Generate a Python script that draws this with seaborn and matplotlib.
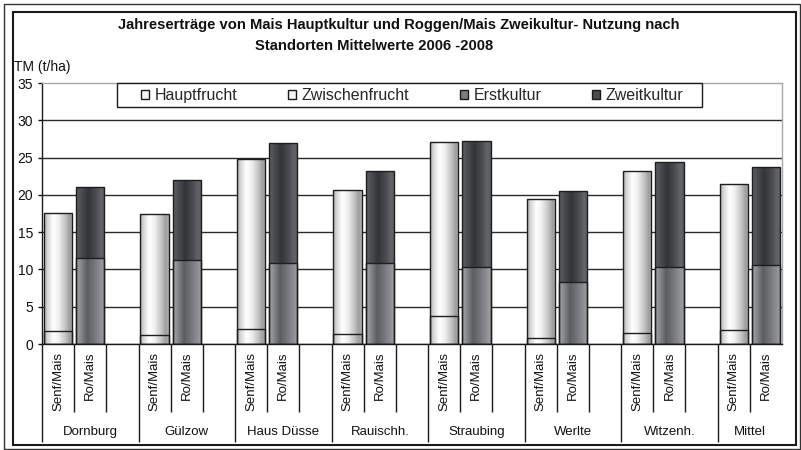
import numpy as np
import pandas as pd
import matplotlib
matplotlib.use("Agg")
import matplotlib.pyplot as plt
from matplotlib.patches import Rectangle, Patch
from matplotlib.colors import to_rgb
from matplotlib.transforms import blended_transform_factory
import seaborn as sns

# ---- data (t/ha dry matter, means 2006-2008) ----
standorte = ["Dornburg", "Gülzow", "Haus Düsse", "Rauischh.", "Straubing",
             "Werlte", "Witzenh.", "Mittel"]
varianten = ["Senf/Mais", "Ro/Mais"]
zwischenfrucht = [1.7, 1.2, 2.0, 1.3, 3.7, 0.8, 1.5, 1.9]
hauptfrucht = [15.9, 16.3, 22.8, 19.3, 23.4, 18.7, 21.7, 19.6]
erstkultur = [11.5, 11.2, 10.9, 10.9, 10.3, 8.3, 10.3, 10.6]
zweitkultur = [9.6, 10.8, 16.1, 12.3, 16.9, 12.2, 14.1, 13.1]
reihen = ["Hauptfrucht", "Zwischenfrucht", "Erstkultur", "Zweitkultur"]
y_ticks = [0, 5, 10, 15, 20, 25, 30, 35]
titel = ["Jahreserträge von Mais Hauptkultur und Roggen/Mais Zweikultur- Nutzung nach",
         "Standorten Mittelwerte 2006 -2008"]
y_titel = "TM (t/ha)"

# each site occupies three category slots (two bars + spacer), the last one two
rows = []
for i, ort in enumerate(standorte):
    rows.append(dict(ort=ort, variante=varianten[0], pos=3 * i,
                     unten=zwischenfrucht[i], oben=hauptfrucht[i],
                     r_unten="Zwischenfrucht", r_oben="Hauptfrucht"))
    rows.append(dict(ort=ort, variante=varianten[1], pos=3 * i + 1,
                     unten=erstkultur[i], oben=zweitkultur[i],
                     r_unten="Erstkultur", r_oben="Zweitkultur"))
df = pd.DataFrame(rows)
df["gesamt"] = df["unten"] + df["oben"]
n_slots = 3 * len(standorte) - 1

# cylinder-like shading across each bar
licht = [(0.0, "#acacac"), (0.12, "#d6d6d6"), (0.32, "#ffffff"), (0.5, "#f1f1f1"),
         (0.75, "#c2c2c2"), (0.9, "#9c9c9c"), (1.0, "#b6b6b6")]
verlauf = {
    "Hauptfrucht": licht,
    "Zwischenfrucht": licht,
    "Erstkultur": [(0.0, "#a4a5a9"), (0.15, "#8b8c90"), (0.38, "#5c5d61"),
                   (0.6, "#727377"), (0.85, "#8e8f93"), (1.0, "#a0a1a5")],
    "Zweitkultur": [(0.0, "#5e5f63"), (0.2, "#4a4b4f"), (0.42, "#333438"),
                    (0.65, "#47484c"), (0.88, "#646569"), (1.0, "#58595d")],
}
grundfarbe = {"Hauptfrucht": "#e6e6e6", "Zwischenfrucht": "#e6e6e6",
              "Erstkultur": "#7c7d81", "Zweitkultur": "#4a4b4f"}

sns.set_theme(style="white")
plt.rcParams["font.family"] = ["Liberation Sans", "DejaVu Sans"]

W, H = 801, 450
fig = plt.figure(figsize=(W / 100, H / 100), dpi=100)
ax = fig.add_axes([42 / W, 1 - 344 / H, (782 - 42) / W, (344 - 83) / H])


def schattieren(patch, stops):
    x0, y0 = patch.get_x(), patch.get_y()
    w, h = patch.get_width(), patch.get_height()
    xs = np.linspace(0, 1, 96)
    ps = [p for p, _ in stops]
    cols = np.array([to_rgb(c) for _, c in stops])
    rgb = np.stack([np.interp(xs, ps, cols[:, k]) for k in range(3)], axis=-1)[None, :, :]
    im = ax.imshow(rgb, extent=[x0, x0 + w, y0, y0 + h], aspect="auto",
                   interpolation="bilinear", origin="lower", zorder=2)
    im.set_clip_path(patch)
    patch.set_facecolor("none")
    patch.set_zorder(2.5)


reihe_an_pos_oben = dict(zip(df["pos"], df["r_oben"]))
reihe_an_pos_unten = dict(zip(df["pos"], df["r_unten"]))

# full stacks first (coloured as the upper component) ...
n0 = len(ax.patches)
sns.barplot(data=df, x="pos", y="gesamt", hue="r_oben", palette=grundfarbe,
            native_scale=True, dodge=False, width=0.88, errorbar=None,
            legend=False, edgecolor="#1e1e1e", linewidth=1.0, ax=ax)
for p in ax.patches[n0:]:
    pos = int(round(p.get_x() + p.get_width() / 2))
    schattieren(p, verlauf[reihe_an_pos_oben[pos]])

# ... then the lower component on top of them
n1 = len(ax.patches)
sns.barplot(data=df, x="pos", y="unten", hue="r_unten", palette=grundfarbe,
            native_scale=True, dodge=False, width=0.88, errorbar=None,
            legend=False, edgecolor="#1e1e1e", linewidth=1.0, ax=ax)
for p in ax.patches[n1:]:
    pos = int(round(p.get_x() + p.get_width() / 2))
    schattieren(p, verlauf[reihe_an_pos_unten[pos]])

# axes
ax.set_xlim(-0.5, n_slots - 0.5)
ax.set_ylim(y_ticks[0], y_ticks[-1])
ax.set_yticks(y_ticks)
ax.set_yticklabels([str(v) for v in y_ticks])
ax.set_xlabel("")
ax.set_ylabel("")
ax.yaxis.grid(True, color="#2a2a2a", linewidth=1.0)
ax.get_ygridlines()[-1].set_visible(False)
ax.set_axisbelow(True)
for s in ["left", "bottom"]:
    ax.spines[s].set_color("#1a1a1a")
    ax.spines[s].set_linewidth(1.0)
for s in ["top", "right"]:
    ax.spines[s].set_color("#a8a8a8")
    ax.spines[s].set_linewidth(1.0)
ax.tick_params(axis="y", left=True, length=3, width=1, pad=3.5,
               labelsize=10, colors="#111111")

# category axis: long separators between sites, short ones between slots
grenzen_ort = [3 * i - 0.5 for i in range(len(standorte))]
grenzen_slot = []
for i in range(len(standorte)):
    n = 3 if i < len(standorte) - 1 else 2
    grenzen_slot += [3 * i + k + 0.5 for k in range(n - 1)]
ax.set_xticks(grenzen_ort)
ax.set_xticks(grenzen_slot, minor=True)
ax.tick_params(axis="x", which="major", bottom=True, length=70.5, width=1,
               color="#1a1a1a", labelbottom=False)
ax.tick_params(axis="x", which="minor", bottom=True, length=49, width=1,
               color="#1a1a1a", labelbottom=False)

trans = blended_transform_factory(ax.transData, ax.transAxes)
ah = 344 - 83
for _, r in df.iterrows():
    ax.text(r["pos"], -8 / ah, r["variante"], rotation=90, ha="center", va="top",
            fontsize=9.5, color="#111111", transform=trans)
for i, ort in enumerate(standorte):
    n = 3 if i < len(standorte) - 1 else 2
    mitte = 3 * i - 0.5 + n / 2
    ax.text(mitte, -(432 - 344) / ah, ort, ha="center", va="center",
            fontsize=9.5, color="#111111", transform=trans)

# titles
fig.text(399 / W, 1 - 25 / H, titel[0], ha="center", va="center",
         fontsize=10.6, fontweight="bold", color="#111111")
fig.text(374 / W, 1 - 46 / H, titel[1], ha="center", va="center",
         fontsize=10.6, fontweight="bold", color="#111111")
fig.text(14 / W, 1 - 66.5 / H, y_titel, ha="left", va="center",
         fontsize=10, color="#111111")

# legend
fig.add_artist(Rectangle((117 / W, 1 - 107 / H), (702 - 117) / W, 24 / H,
                         transform=fig.transFigure, facecolor="white",
                         edgecolor="#1a1a1a", linewidth=1.0, zorder=5))
griffe = [Patch(facecolor=grundfarbe[r] if r in ("Erstkultur", "Zweitkultur") else "#f4f4f4",
                edgecolor="#1a1a1a", linewidth=1.0) for r in reihen]
leg = fig.legend(griffe, reihen, ncol=4, loc="center left",
                 bbox_to_anchor=(141 / W, 1 - 95.5 / H), frameon=False,
                 fontsize=11.5, handlelength=0.52, handleheight=0.52,
                 handletextpad=0.35, columnspacing=3.15, borderpad=0,
                 borderaxespad=0)
leg.set_zorder(6)

# chart frames
fig.add_artist(Rectangle((13 / W, 1 - 445 / H), (796 - 13) / W, (445 - 12) / H,
                         transform=fig.transFigure, fill=False,
                         edgecolor="#1a1a1a", linewidth=1.5))
fig.add_artist(Rectangle((4 / W, 1 - 449 / H), (799.5 - 4) / W, (449 - 4) / H,
                         transform=fig.transFigure, fill=False,
                         edgecolor="#333333", linewidth=1.0))

fig.savefig("out.png", dpi=100, facecolor="white")
